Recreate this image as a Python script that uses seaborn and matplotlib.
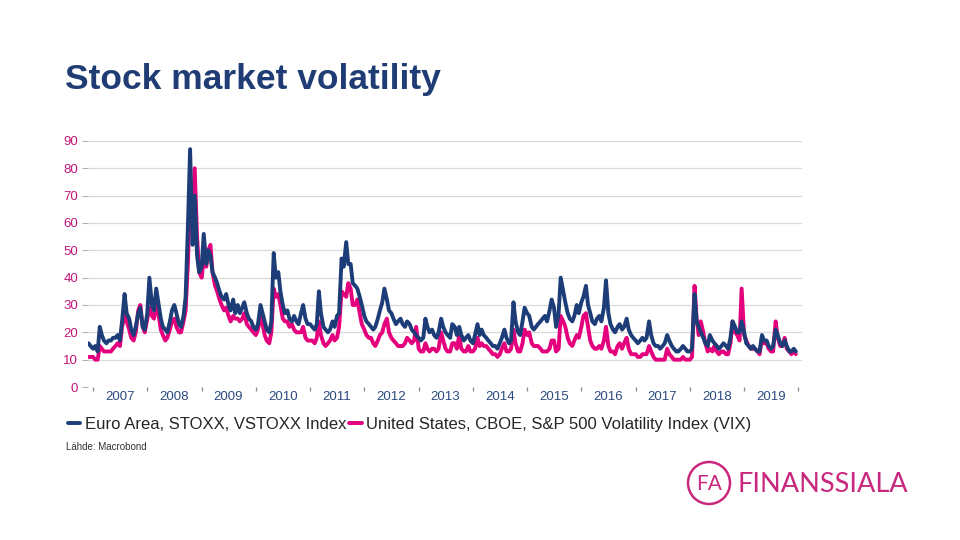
"""
Stock market volatility: VSTOXX vs VIX (semi-monthly readings, Dec 2006 - Dec 2019).
"""
import pandas as pd
import matplotlib
matplotlib.use('Agg')
import matplotlib.pyplot as plt
import matplotlib.dates as mdates
from matplotlib.patches import Ellipse
import seaborn as sns

EURO_LABEL = 'Euro Area, STOXX, VSTOXX Index'
US_LABEL = 'United States, CBOE, S&P 500 Volatility Index (VIX)'

# two readings per month (1st and 15th), Dec 2006 .. Dec 2019
vstoxx_2006 = [16, 15]
vstoxx_2007 = [14, 15, 13, 22, 19, 17, 16, 17, 17, 18, 18, 19, 17, 24, 34, 27, 25, 21, 19, 22, 27, 29, 22, 21]
vstoxx_2008 = [27, 40, 30, 28, 36, 31, 25, 22, 21, 20, 24, 28, 30, 27, 23, 22, 26, 33, 60, 87, 52, 70, 48, 42]
vstoxx_2009 = [44, 56, 45, 50, 48, 42, 40, 38, 35, 33, 32, 34, 30, 28, 32, 27, 30, 27, 29, 31, 27, 25, 24, 22]
vstoxx_2010 = [21, 23, 30, 27, 24, 21, 20, 24, 49, 40, 42, 35, 30, 27, 28, 25, 24, 26, 24, 23, 27, 30, 25, 23]
vstoxx_2011 = [23, 22, 21, 23, 35, 27, 22, 21, 20, 21, 24, 22, 26, 27, 47, 44, 53, 45, 45, 38, 37, 36, 33, 30]
vstoxx_2012 = [26, 24, 23, 22, 21, 22, 25, 28, 31, 36, 32, 28, 27, 25, 23, 24, 25, 23, 22, 24, 23, 21, 20, 19]
vstoxx_2013 = [18, 17, 18, 25, 22, 20, 21, 19, 18, 20, 25, 22, 20, 19, 18, 23, 22, 19, 22, 19, 17, 18, 19, 17]
vstoxx_2014 = [16, 19, 23, 19, 21, 19, 18, 17, 16, 15, 15, 14, 16, 18, 21, 18, 16, 17, 31, 24, 20, 19, 24, 29]
vstoxx_2015 = [27, 26, 22, 21, 22, 23, 24, 25, 26, 24, 28, 32, 29, 22, 27, 40, 35, 31, 27, 25, 24, 26, 30, 27]
vstoxx_2016 = [31, 33, 37, 30, 27, 24, 23, 25, 26, 24, 29, 39, 27, 23, 21, 20, 22, 23, 21, 22, 25, 21, 19, 18]
vstoxx_2017 = [17, 16, 17, 18, 17, 18, 24, 19, 16, 15, 15, 14, 15, 16, 19, 17, 15, 14, 13, 13, 14, 15, 14, 13]
vstoxx_2018 = [13, 14, 34, 24, 22, 20, 18, 16, 15, 19, 17, 16, 15, 14, 15, 16, 15, 14, 18, 24, 22, 20, 20, 24]
vstoxx_2019 = [20, 16, 15, 14, 15, 14, 13, 13, 19, 17, 17, 15, 14, 15, 21, 19, 16, 15, 17, 15, 13, 13, 14, 13]

vix_2006 = [11, 11]
vix_2007 = [11, 10, 10, 15, 14, 13, 13, 13, 13, 14, 15, 16, 15, 22, 26, 24, 21, 18, 17, 20, 28, 30, 22, 20]
vix_2008 = [25, 29, 26, 25, 30, 27, 21, 19, 17, 18, 21, 24, 25, 22, 20, 20, 24, 28, 46, 70, 58, 80, 55, 42]
vix_2009 = [40, 47, 44, 50, 52, 42, 37, 35, 32, 30, 28, 29, 26, 24, 26, 25, 25, 24, 25, 27, 23, 22, 21, 20]
vix_2010 = [19, 21, 26, 23, 19, 17, 16, 20, 36, 33, 34, 30, 25, 24, 24, 22, 23, 21, 20, 20, 20, 22, 18, 17]
vix_2011 = [17, 17, 16, 18, 24, 19, 16, 15, 16, 17, 19, 17, 18, 22, 35, 34, 33, 38, 36, 30, 30, 32, 27, 23]
vix_2012 = [21, 19, 18, 18, 16, 15, 17, 19, 20, 23, 25, 20, 18, 17, 16, 15, 15, 15, 16, 18, 17, 16, 17, 22]
vix_2013 = [14, 13, 13, 16, 14, 13, 14, 14, 13, 14, 20, 17, 14, 13, 13, 16, 16, 14, 19, 14, 13, 13, 15, 13]
vix_2014 = [13, 14, 18, 15, 16, 15, 15, 14, 13, 12, 12, 11, 12, 14, 16, 13, 13, 14, 21, 16, 13, 13, 16, 21]
vix_2015 = [19, 20, 16, 15, 15, 15, 14, 13, 13, 13, 14, 17, 17, 13, 14, 26, 24, 22, 18, 16, 15, 17, 19, 18]
vix_2016 = [22, 26, 27, 22, 17, 15, 14, 14, 15, 14, 17, 22, 15, 13, 13, 12, 15, 16, 14, 16, 18, 14, 12, 12]
vix_2017 = [12, 11, 11, 12, 12, 12, 15, 13, 11, 10, 10, 10, 10, 10, 14, 12, 11, 10, 10, 10, 10, 11, 10, 10]
vix_2018 = [10, 11, 37, 25, 19, 24, 20, 16, 13, 14, 13, 15, 13, 12, 13, 13, 12, 12, 16, 24, 20, 19, 17, 36]
vix_2019 = [19, 17, 15, 14, 14, 14, 13, 12, 18, 16, 16, 14, 13, 13, 24, 18, 15, 15, 18, 14, 13, 12, 13, 12]

NAVY = '#1d3d78'
MAGENTA = '#e4007c'
LOGO = '#c8287d'


def main():
    vstoxx = (vstoxx_2006 + vstoxx_2007 + vstoxx_2008 + vstoxx_2009 + vstoxx_2010 + vstoxx_2011
              + vstoxx_2012 + vstoxx_2013 + vstoxx_2014 + vstoxx_2015 + vstoxx_2016 + vstoxx_2017
              + vstoxx_2018 + vstoxx_2019)
    vix = (vix_2006 + vix_2007 + vix_2008 + vix_2009 + vix_2010 + vix_2011 + vix_2012 + vix_2013
           + vix_2014 + vix_2015 + vix_2016 + vix_2017 + vix_2018 + vix_2019)
    dates = pd.date_range('2006-12-01', periods=len(vstoxx), freq='SMS')

    df = pd.concat([
        pd.DataFrame({'date': dates, 'value': vstoxx, 'series': EURO_LABEL}),
        pd.DataFrame({'date': dates, 'value': vix, 'series': US_LABEL}),
    ], ignore_index=True)

    sns.set_theme(style='white')
    plt.rcParams['font.family'] = ['Liberation Sans', 'DejaVu Sans']

    fig = plt.figure(figsize=(9.6, 5.4), dpi=100)
    ax = fig.add_axes([0.0917, 0.2833, 0.7438, 0.4557])

    sns.lineplot(data=df, x='date', y='value', hue='series',
                 hue_order=[EURO_LABEL, US_LABEL], palette=[NAVY, MAGENTA],
                 linewidth=2.8, ax=ax, legend=False)
    # blue line on top of the pink one
    ax.lines[0].set_zorder(4)
    ax.lines[1].set_zorder(3)

    ax.set_ylim(0, 90)
    ax.set_xlim(pd.Timestamp('2006-11-28'), pd.Timestamp('2020-01-26'))
    ax.set_yticks(range(0, 91, 10))
    ax.yaxis.grid(True, color='#d9d9d9', linewidth=0.9)
    ax.get_ygridlines()[0].set_visible(False)
    ax.xaxis.grid(False)
    for s in ax.spines.values():
        s.set_visible(False)

    ax.tick_params(axis='y', left=True, length=4, width=0.8, color='#b0b0b0',
                   labelsize=9.5, labelcolor='#c2177a', pad=3)

    ax.xaxis.set_major_locator(mdates.MonthLocator(bymonth=7, bymonthday=1))
    ax.xaxis.set_major_formatter(mdates.DateFormatter('%Y'))
    ax.xaxis.set_minor_locator(mdates.YearLocator())
    ax.tick_params(axis='x', which='major', length=0, labelsize=9.5,
                   labelcolor='#2b4a80', pad=3)
    ax.tick_params(axis='x', which='minor', bottom=True, length=3, width=0.9,
                   color='#8a8a8a')
    ax.set_xlabel('')
    ax.set_ylabel('')

    # legend below the chart
    handles = [plt.Line2D([], [], color=NAVY, linewidth=2.8),
               plt.Line2D([], [], color=MAGENTA, linewidth=2.8)]
    fig.legend(handles, [EURO_LABEL, US_LABEL], loc='center left',
               bbox_to_anchor=(0.062, 0.214), ncol=2, frameon=False,
               fontsize=12, handlelength=0.75, handletextpad=0.25,
               columnspacing=0.2, borderpad=0)

    fig.text(0.069, 0.172, 'Lähde: Macrobond', fontsize=7, color='#333333', va='center')

    fig.text(0.068, 0.852, 'Stock market volatility', fontsize=25.5, fontweight='bold',
             color='#1f3d74', va='center')

    # Finanssiala logo
    fig.add_artist(Ellipse((709 / 960, 1 - 483 / 540), 42 / 960, 42 / 540,
                           fill=False, edgecolor=LOGO, linewidth=1.8))
    fig.text(709 / 960, 1 - 484 / 540, 'FA', fontsize=15, color=LOGO,
             ha='center', va='center', family=['Lato', 'DejaVu Sans'])
    fig.text(737 / 960, 1 - 484 / 540, 'FINANSSIALA', fontsize=19.5, color=LOGO,
             ha='left', va='center', family=['Lato', 'DejaVu Sans'])

    fig.savefig('out.png', dpi=100)
    plt.close(fig)


if __name__ == '__main__':
    main()
